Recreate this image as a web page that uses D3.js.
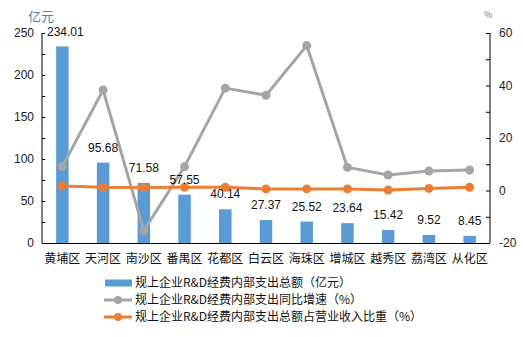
<!DOCTYPE html>
<html><head><meta charset="utf-8">
<script src="https://cdn.jsdelivr.net/npm/d3@7"></script>
<style>body{margin:0;background:#fff;}svg{display:block;font-family:"Noto Sans CJK SC","Liberation Sans",sans-serif;}</style>
</head><body><svg id="c" width="523" height="337"></svg>
<script>
const categories = ["黄埔区","天河区","南沙区","番禺区","花都区","白云区","海珠区","增城区","越秀区","荔湾区","从化区"];
const spending = [234.01,95.68,71.58,57.55,40.14,27.37,25.52,23.64,15.42,9.52,8.45];
const growth = [9.1,38.3,-15.3,9.1,39.0,36.3,55.2,8.8,5.9,7.4,7.8];
const share = [1.7,1.2,1.1,1.2,1.2,0.6,0.6,0.6,0.2,0.8,1.2];
const leftTicks = [0,50,100,150,200,250];
const rightTicks = [-20,0,20,40,60];
const seriesNames = ["规上企业R&D经费内部支出总额（亿元）","规上企业R&D经费内部支出同比增速（%）","规上企业R&D经费内部支出总额占营业收入比重（%）"];

const svg = d3.select("#c");
const L = 42, R = 490, T = 33, B = 243;
const x = d3.scaleBand().domain(categories).range([L, R]).paddingInner(0).paddingOuter(0);
const yL = d3.scaleLinear().domain([0,250]).range([B, T]);
const yR = d3.scaleLinear().domain([-20,60]).range([B, T]);
const bw = 12.5;
const cx = d => x(d) + x.bandwidth()/2;

// bars
svg.selectAll("rect.bar").data(spending).join("rect")
  .attr("x", (d,i) => cx(categories[i]) - bw/2).attr("width", bw)
  .attr("y", d => yL(d)).attr("height", d => B - yL(d)).attr("fill", "#5b9bd5");

// axes
const axL = svg.append("g").attr("transform", `translate(${L},0)`)
  .call(d3.axisRight(yL).tickValues(d3.range(0,251,25)).tickSize(3).tickFormat(""));
axL.select(".domain").remove();
svg.append("line").attr("x1",L).attr("x2",L).attr("y1",T).attr("y2",B).attr("stroke","#000");
leftTicks.forEach(v => svg.append("text").attr("x", 34).attr("y", yL(v)).attr("dy","0.35em")
  .attr("text-anchor","end").attr("font-size",12).attr("font-family","Liberation Sans, sans-serif").attr("fill","#222").text(v));

const axR = svg.append("g").attr("transform", `translate(${R},0)`)
  .call(d3.axisLeft(yR).tickValues(d3.range(-20,61,10)).tickSize(4).tickFormat(""));
axR.select(".domain").remove();
svg.append("line").attr("x1",R).attr("x2",R).attr("y1",T).attr("y2",B).attr("stroke","#000");
rightTicks.forEach(v => svg.append("text").attr("x", 499).attr("y", yR(v)).attr("dy","0.35em")
  .attr("text-anchor","start").attr("font-size",12).attr("font-family","Liberation Sans, sans-serif").attr("fill","#222").text(v));
svg.selectAll(".tick line").attr("stroke","#000");

svg.append("line").attr("x1",L).attr("x2",R).attr("y1",B+0.5).attr("y2",B+0.5).attr("stroke","#000");
categories.forEach(c => svg.append("text").attr("x", cx(c)).attr("y", 259).attr("dy","0.35em")
  .attr("text-anchor","middle").attr("font-size",12).attr("fill","#111").text(c));

// units
svg.append("text").attr("x",28).attr("y",16).attr("dy","0.35em").attr("font-size",13).attr("fill","#4a7fb5").text("亿元");
svg.append("text").attr("x",484).attr("y",15).attr("dy","0.35em").attr("font-size",9).attr("fill","#4a7fb5").text("%");

// lines
function drawLine(vals, color){
  const line = d3.line().x((d,i)=>cx(categories[i])).y(d=>yR(d));
  svg.append("path").datum(vals).attr("d", line).attr("fill","none").attr("stroke",color).attr("stroke-width",3).attr("stroke-linejoin","round");
  svg.selectAll(null).data(vals).join("circle").attr("cx",(d,i)=>cx(categories[i])).attr("cy",d=>yR(d)).attr("r",4.5).attr("fill",color);
}
drawLine(growth, "#a5a5a5");
drawLine(share, "#ed7d31");

// value labels
spending.forEach((v,i) => svg.append("text").attr("x", cx(categories[i]) + (i===0?3:0)).attr("y", yL(v)-15).attr("dy","0.35em")
  .attr("text-anchor","middle").attr("font-size",12).attr("font-family","Liberation Sans, sans-serif").attr("fill","#111").text(v.toFixed(2)));

// legend
const lg = svg.append("g");
const colors = ["#5b9bd5","#a5a5a5","#ed7d31"];
[283,300,317].forEach((y,i)=>{
  if(i===0){ lg.append("rect").attr("x",105).attr("y",y-3.5).attr("width",27).attr("height",7).attr("fill",colors[0]); }
  else {
    lg.append("line").attr("x1",104).attr("x2",132).attr("y1",y).attr("y2",y).attr("stroke",colors[i]).attr("stroke-width",3);
    lg.append("circle").attr("cx",118).attr("cy",y).attr("r",4).attr("fill",colors[i]);
  }
  lg.append("text").attr("x",135).attr("y",y).attr("dy","0.35em").attr("font-size",12).attr("fill","#111").text(seriesNames[i]);
});
</script></body></html>
